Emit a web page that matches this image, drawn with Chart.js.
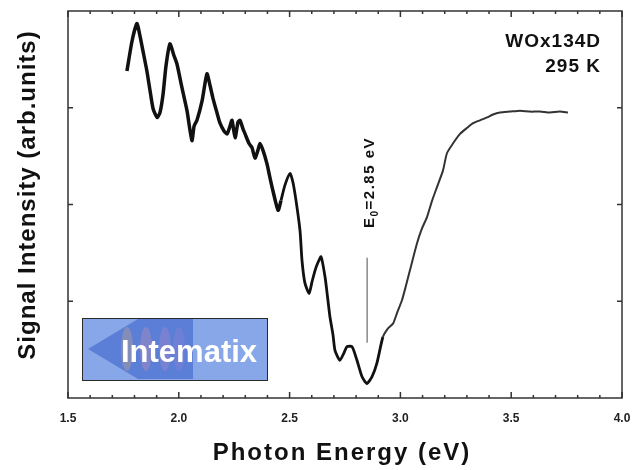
<!DOCTYPE html>
<html>
<head>
<meta charset="utf-8">
<script src="https://cdn.jsdelivr.net/npm/chart.js@4.4.1/dist/chart.umd.min.js"></script>
<style>
  body { margin: 0; background: #fff; }
  #chartContainer { display: block; }
</style>
</head>
<body>
<canvas id="chartContainer" width="634" height="470"></canvas>
<script>
// photon energy (eV) and signal (arb. units)
var energy = [1.766, 1.789, 1.811, 1.825, 1.838, 1.856, 1.870, 1.884, 1.902, 1.915,
              1.929, 1.942, 1.960, 1.978, 1.992, 2.014, 2.037, 2.051, 2.060, 2.069,
              2.082, 2.105, 2.127, 2.141, 2.154, 2.172, 2.186, 2.204, 2.218, 2.231,
              2.240, 2.254, 2.267, 2.276, 2.290, 2.299, 2.317, 2.330, 2.344, 2.357,
              2.366, 2.380, 2.398, 2.412, 2.425, 2.448, 2.461, 2.479, 2.502, 2.515,
              2.529, 2.547, 2.556, 2.569, 2.588, 2.601, 2.615, 2.628, 2.642, 2.660,
              2.673, 2.682, 2.696, 2.705, 2.727, 2.746, 2.759, 2.782, 2.804, 2.827,
              2.849, 2.872, 2.894, 2.921, 2.944, 2.967, 2.985, 3.007, 3.025, 3.043,
              3.075, 3.097, 3.120, 3.143, 3.165, 3.192, 3.210, 3.237, 3.269, 3.300,
              3.328, 3.359, 3.391, 3.418, 3.449, 3.495, 3.540, 3.585, 3.630, 3.675,
              3.720, 3.756];
var signal = [3.38, 3.69, 3.87, 3.74, 3.59, 3.38, 3.18, 2.99, 2.90, 2.95,
              3.14, 3.43, 3.66, 3.54, 3.45, 3.21, 2.97, 2.76, 2.66, 2.81,
              2.87, 3.07, 3.35, 3.23, 3.10, 2.95, 2.84, 2.76, 2.73, 2.81,
              2.87, 2.69, 2.85, 2.87, 2.78, 2.73, 2.63, 2.59, 2.48, 2.56,
              2.63, 2.56, 2.42, 2.27, 2.14, 1.94, 2.04, 2.20, 2.32, 2.23,
              2.04, 1.73, 1.42, 1.19, 1.08, 1.20, 1.32, 1.40, 1.46, 1.25,
              1.01, 0.84, 0.65, 0.49, 0.39, 0.47, 0.53, 0.53, 0.39, 0.22,
              0.15, 0.22, 0.36, 0.63, 0.72, 0.77, 0.88, 1.01, 1.16, 1.32,
              1.60, 1.75, 1.87, 2.04, 2.18, 2.35, 2.53, 2.63, 2.73, 2.79,
              2.84, 2.87, 2.90, 2.93, 2.95, 2.96, 2.97, 2.96, 2.96, 2.95,
              2.96, 2.95];

// band gap marker
var e0Energy = 2.85;
var e0Span = [0.57, 1.45];

var xMajor = [1.5, 2.0, 2.5, 3.0, 3.5, 4.0];
var yMajor = [1, 2, 3];

var sampleLines = ["WOx134D", "295 K"];

var spectrum = [];
for (i = 0; i < energy.length; i++) {
    spectrum.push({x: energy[i], y: signal[i]});
}

var FONT = '"Liberation Sans", Arial, sans-serif';

function drawLogo(ctx) {
    var x = 82, y = 318, w = 185, h = 62;
    ctx.save();
    ctx.fillStyle = "#88a7e8";
    ctx.fillRect(x, y, w, h);
    ctx.fillStyle = "#5b7fd6";
    ctx.beginPath();
    ctx.moveTo(x + 6, y + h / 2);
    ctx.lineTo(x + 56, y + 1);
    ctx.lineTo(x + 111, y + 1);
    ctx.lineTo(x + 111, y + h - 1);
    ctx.lineTo(x + 56, y + h - 1);
    ctx.closePath();
    ctx.fill();
    var stripes = [[127, "rgba(230,175,120,0.3)"], [146, "rgba(225,150,175,0.28)"],
                   [165, "rgba(200,140,200,0.28)"], [179, "rgba(160,130,215,0.28)"]];
    for (var s = 0; s < stripes.length; s++) {
        ctx.fillStyle = stripes[s][1];
        ctx.beginPath();
        ctx.ellipse(stripes[s][0], y + 31, 6, 22, 0, 0, Math.PI * 2);
        ctx.fill();
    }
    ctx.strokeStyle = "#2a2a2a";
    ctx.lineWidth = 1;
    ctx.strokeRect(x + 0.5, y + 0.5, w, h);
    ctx.fillStyle = "#ffffff";
    ctx.font = "bold 31px " + FONT;
    ctx.textAlign = "left";
    ctx.textBaseline = "alphabetic";
    ctx.fillText("Intematix", 121, 362);
    ctx.restore();
}

var decorations = {
    id: "decorations",
    afterDraw: function(chart) {
        var ctx = chart.ctx, a = chart.chartArea;
        var xs = chart.scales.x, ys = chart.scales.y;
        ctx.save();
        ctx.strokeStyle = "#333";
        ctx.lineWidth = 1.5;
        ctx.strokeRect(a.left, a.top, a.right - a.left, a.bottom - a.top);

        // inward ticks, minor every 0.1 eV
        for (var k = 15; k <= 40; k++) {
            var px = xs.getPixelForValue(k / 10);
            var len = (k % 5 === 0) ? 6 : 3;
            ctx.beginPath();
            ctx.moveTo(px, a.bottom); ctx.lineTo(px, a.bottom - len);
            ctx.moveTo(px, a.top); ctx.lineTo(px, a.top + len);
            ctx.stroke();
        }
        for (var j = 0; j < yMajor.length; j++) {
            var py = ys.getPixelForValue(yMajor[j]);
            ctx.beginPath();
            ctx.moveTo(a.left, py); ctx.lineTo(a.left + 5, py);
            ctx.moveTo(a.right, py); ctx.lineTo(a.right - 5, py);
            ctx.stroke();
        }

        ctx.fillStyle = "#111";
        ctx.letterSpacing = "2px";
        ctx.font = "bold 24px " + FONT;
        ctx.textAlign = "center";
        ctx.textBaseline = "alphabetic";
        ctx.fillText("Photon Energy (eV)", (a.left + a.right) / 2 - 3, 460);

        ctx.save();
        ctx.letterSpacing = "1px";
        ctx.translate(35, 195);
        ctx.rotate(-Math.PI / 2);
        ctx.fillText("Signal Intensity (arb.units)", 0, 0);
        ctx.restore();

        ctx.letterSpacing = "1px";
        ctx.font = "bold 19px " + FONT;
        ctx.textAlign = "right";
        ctx.fillText(sampleLines[0], 601, 47);
        ctx.fillText(sampleLines[1], 601, 72);

        // E0 label, rotated, reading upward
        var ex = xs.getPixelForValue(e0Energy);
        ctx.save();
        ctx.translate(ex + 7, 228);
        ctx.rotate(-Math.PI / 2);
        ctx.textAlign = "left";
        ctx.letterSpacing = "1.5px";
        ctx.font = "bold 15px " + FONT;
        ctx.fillText("E", 0, 0);
        var wE = ctx.measureText("E").width;
        ctx.font = "bold 10px " + FONT;
        ctx.fillText("0", wE, 4);
        var w0 = ctx.measureText("0").width;
        ctx.font = "bold 15px " + FONT;
        ctx.fillText("=2.85 eV", wE + w0, 0);
        ctx.restore();

        ctx.letterSpacing = "0px";
        drawLogo(ctx);
        ctx.restore();
    }
};

function noPad(s) {
    s.paddingLeft = 0; s.paddingRight = 0;
    s.paddingTop = 0; s.paddingBottom = 0;
}

var ctx = document.getElementById("chartContainer").getContext("2d");
var myChart = new Chart(ctx, {
    type: "line",
    data: {
        datasets: [{
            data: spectrum,
            borderColor: "#111",
            borderWidth: 3,
            pointRadius: 0,
            tension: 0.2,
            segment: {
                borderWidth: function(c) {
                    var xv = c.p0.parsed.x;
                    if (xv < 2.45) return 3.5;
                    if (xv < 2.9) return 2.8;
                    return 2;
                },
                borderColor: function(c) {
                    return c.p0.parsed.x < 2.9 ? "#111" : "#333";
                }
            }
        }, {
            data: [{x: e0Energy, y: e0Span[0]}, {x: e0Energy, y: e0Span[1]}],
            borderColor: "#888",
            borderWidth: 1.5,
            pointRadius: 0
        }]
    },
    options: {
        responsive: false,
        devicePixelRatio: 1,
        animation: false,
        layout: { padding: 0 },
        plugins: {
            legend: { display: false },
            tooltip: { enabled: false }
        },
        scales: {
            x: {
                type: "linear",
                position: "bottom",
                min: 1.5,
                max: 4.0,
                grid: { display: false, drawTicks: false },
                border: { display: false },
                afterBuildTicks: function(s) {
                    s.ticks = xMajor.map(function(v) { return {value: v}; });
                },
                ticks: {
                    autoSkip: false,
                    maxRotation: 0,
                    padding: 13,
                    color: "#222",
                    font: { family: FONT, size: 12, weight: "bold" },
                    callback: function(v) { return Number(v).toFixed(1); }
                },
                afterFit: function(s) { s.height = 72; noPad(s); }
            },
            xTop: {
                type: "linear",
                position: "top",
                min: 1.5,
                max: 4.0,
                grid: { display: false, drawTicks: false },
                border: { display: false },
                ticks: { display: false },
                afterFit: function(s) { s.height = 11; noPad(s); }
            },
            y: {
                type: "linear",
                position: "left",
                min: 0,
                max: 4,
                grid: { display: false, drawTicks: false },
                border: { display: false },
                ticks: { display: false },
                afterFit: function(s) { s.width = 68; noPad(s); }
            },
            yRight: {
                type: "linear",
                position: "right",
                min: 0,
                max: 4,
                grid: { display: false, drawTicks: false },
                border: { display: false },
                ticks: { display: false },
                afterFit: function(s) { s.width = 12; noPad(s); }
            }
        }
    },
    plugins: [decorations]
});
</script>
</body>
</html>
